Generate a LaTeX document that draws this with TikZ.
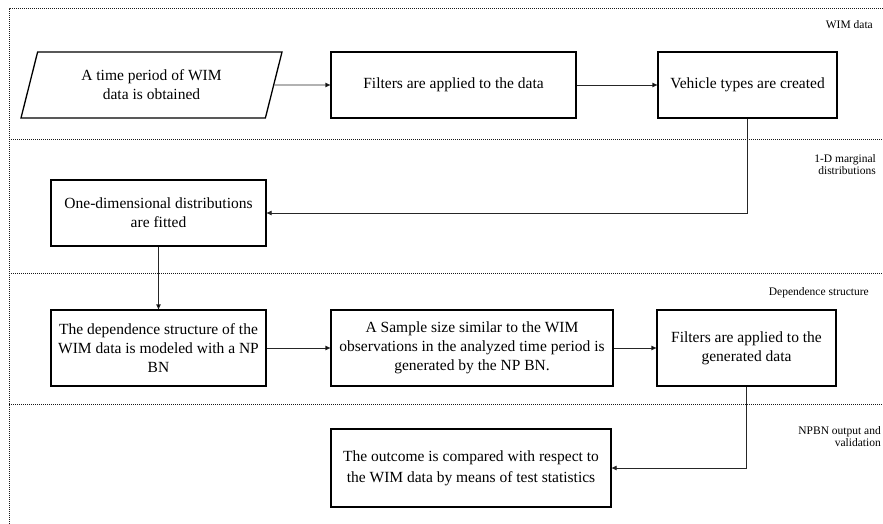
\documentclass[tikz,border=0pt]{standalone}
\usepackage{fontspec}
\setmainfont{Liberation Serif}
\usetikzlibrary{shapes.geometric,arrows.meta}

\begin{document}
\begin{tikzpicture}[x=1pt,y=-1pt]
	\tikzstyle{box} = [draw=black, line width=1.3, fill=white, align=center, inner sep=2pt, font=\fontsize{15.5}{19}\selectfont]
	\tikzstyle{io} = [box, trapezium, trapezium left angle=64, trapezium right angle=116, trapezium stretches body]
	\tikzstyle{lane} = [draw=black!90, line width=1, densely dotted]
	\tikzstyle{lanelabel} = [anchor=east, align=right, inner sep=0pt, font=\fontsize{11.5}{12}\selectfont]
	\tikzstyle{flow} = [draw=black!85, line width=0.8, -{Triangle[length=5pt,width=4.5pt]}]
	\useasboundingbox (0,0) rectangle (883,524);
	% lanes
	\draw [lane] (9,524) -- (9,9) -- (883,9);
	\foreach \y in {140,273,404}
		\draw [lane] (9,\y) -- (883,\y);
		\node [lanelabel, anchor=base east] (lblwim) at (873,29) {WIM data};
		\node [lanelabel] (lblmarg) at (876,165) {1-D marginal\\distributions};
		\node [lanelabel] (lbldep) at (869,293) {Dependence structure};
		\node [lanelabel] (lblnpbn) at (881,437) {NPBN output and\\validation};
	% steps
		\node [io, minimum width=261pt, minimum height=66pt] (period) at (151.5,85) {A time period of WIM\\data is obtained};
		\node [box, minimum width=245pt, minimum height=66pt] (filt) at (453.5,85) {Filters are applied to the data};
		\node [box, minimum width=179pt, minimum height=66pt] (vtypes) at (747.5,85) {Vehicle types are created};
		\node [box, minimum width=215pt, minimum height=66pt] (onedim) at (158.5,213) {One-dimensional distributions\\are fitted};
		\node [box, minimum width=215pt, minimum height=76pt] (depstr) at (158.5,348) {The dependence structure of the\\WIM data is modeled with a NP\\BN};
		\node [box, minimum width=282pt, minimum height=76pt] (sample) at (472,348) {A Sample size similar to the WIM\\observations in the analyzed time period is\\generated by the NP BN.};
		\node [box, minimum width=179pt, minimum height=76pt] (genfilt) at (746.5,348) {Filters are applied to the\\generated data};
		\node [box, minimum width=280pt, minimum height=78pt, font=\fontsize{15.5}{21}\selectfont] (compare) at (471,468) {The outcome is compared with respect to\\the WIM data by means of test statistics};
	\path [flow] (period) edge (filt)
		       (filt) edge (vtypes)
		       (onedim) edge (depstr)
		       (depstr) edge (sample)
		       (sample) edge (genfilt);
	\draw [flow] (vtypes.south) |- (onedim.east);
	\draw [flow] (genfilt.south) |- (compare.east);
\end{tikzpicture}
\end{document}
